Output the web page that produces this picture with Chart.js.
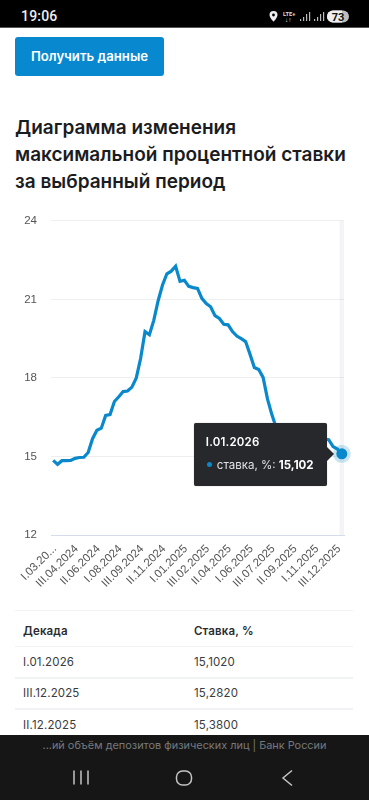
<!DOCTYPE html>
<html lang="ru"><head><meta charset="utf-8">
<style>
html,body{margin:0;padding:0;background:#fff;width:369px;height:800px;overflow:hidden;font-family:Inter,"Noto Sans",sans-serif;color:#1c1d20}
.abs{position:absolute}
#status{left:0;top:0;width:369px;height:28px;background:#000;border-bottom:1px solid #555;box-sizing:border-box;color:#eee}
#clock{left:21px;top:8px;font:500 14px Roboto,sans-serif;letter-spacing:.2px;color:#eee}
#btn{left:15px;top:37px;width:149px;height:39px;background:#0889cf;border-radius:3px;color:#fff;font:600 13.200px/38px Inter,sans-serif;text-align:center}
#title{left:15px;top:114px;width:354px;font:600 19px/27px Inter,sans-serif;color:#1b1c1f;white-space:nowrap}
#chart{left:0;top:200px}
#tip{display:none;background:#26282c;border-radius:2px;color:#fff;box-sizing:border-box;padding:0 0 0 12px;font:13px Inter,sans-serif;box-shadow:0 0 1px #888}
#tip .t{font:600 11.5px/16px Inter,sans-serif;margin-top:11px;letter-spacing:.2px}
#tip .b{font:400 11.5px/16px Inter,sans-serif;margin-top:7px;white-space:nowrap;color:#dfe0e2}
#tip .b b{font-weight:700;color:#fff}
#tip .d{display:inline-block;width:5px;height:5px;border-radius:50%;margin:0 5px 2px 1px;vertical-align:middle}
#tip .c{position:absolute;left:100%;top:50%;margin-top:-7px;border-left:7px solid #26282c;border-top:7px solid transparent;border-bottom:7px solid transparent}
.ln{left:15px;width:338px;height:1px;background:#f1f2f4}
.cell{font:400 11.5px/16px Inter,sans-serif;color:#3a3c40;letter-spacing:.15px}
.hd{font-weight:600;color:#2a2b2f}
#nav{left:0;top:735px;width:369px;height:65px;background:#161616}
#cap{left:0;top:737px;width:369px;text-align:center;font:400 10.900px/16px Inter,sans-serif;color:#77797d;}
</style></head><body>
<div class="abs" id="status"></div>
<div class="abs" id="clock">19:06</div>
<svg class="abs" style="left:266px;top:8px" width="90" height="18" viewBox="0 0 90 18">
<path d="M7.5 3a4 4 0 0 1 4 4c0 2.7-4 6.8-4 6.8S3.500 9.700 3.500 7a4 4 0 0 1 4-4z" fill="#eee"/><circle cx="7.500" cy="7" r="1.400" fill="#000"/>
<text x="17" y="7.500" font-family="Roboto" font-size="5.800" font-weight="700" fill="#ddd">LTE+</text>
<text x="19" y="14" font-family="Roboto" font-size="6.500" font-weight="700" fill="#ddd">↓↑</text>
<g fill="#bbb"><rect x="34" y="11" width="1.200" height="2"/><rect x="37" y="9" width="1.200" height="4"/><rect x="40" y="6" width="1.200" height="7"/><rect x="43" y="4" width="1.200" height="9"/>
<rect x="48" y="11" width="1.200" height="2"/><rect x="51" y="9" width="1.200" height="4"/><rect x="54" y="6" width="1.200" height="7"/><rect x="57" y="4" width="1.200" height="9"/></g>
<rect x="61" y="2.500" width="22" height="12" rx="6" fill="#bdbdbd"/><path d="M67 2.500h9v12h-9a6 6 0 0 1 0-12z" fill="#eee"/>
<text x="72" y="12.700" text-anchor="middle" font-family="Roboto" font-size="11" font-weight="700" fill="#111">73</text></svg>
<div class="abs" id="btn">Получить данные</div>
<div class="abs" id="title">Диаграмма изменения<br>максимальной процентной ставки<br>за выбранный период</div>
<canvas class="abs" id="chart" width="369" height="400"></canvas>
<div class="abs" id="tip"></div>
<div class="abs ln" style="top:610px"></div>
<div class="abs cell hd" style="left:23px;top:623px">Декада</div><div class="abs cell hd" style="left:194px;top:623px">Ставка, %</div>
<div class="abs ln" style="top:646px"></div>
<div class="abs cell" style="left:23px;top:654px">I.01.2026</div><div class="abs cell" style="left:194px;top:654px">15,1020</div>
<div class="abs ln" style="top:677px;height:2px"></div>
<div class="abs cell" style="left:23px;top:685px">III.12.2025</div><div class="abs cell" style="left:194px;top:685px">15,2820</div>
<div class="abs ln" style="top:708px;height:2px"></div>
<div class="abs cell" style="left:23px;top:717px">II.12.2025</div><div class="abs cell" style="left:194px;top:717px">15,3800</div>
<div class="abs" id="nav"></div>
<div class="abs" id="cap">...ий объём депозитов физических лиц | Банк России</div>
<svg class="abs" style="left:0;top:760px" width="369" height="40" viewBox="0 0 369 40" fill="none" stroke="#c4c4c4" stroke-width="1.500">
<path d="M74 10.500v14M81 10.500v14M88 10.500v14"/><rect x="176.500" y="11" width="15" height="14" rx="6"/><path d="M292 10.500l-9 7.500 9 7.500"/></svg>
<script src="https://cdn.jsdelivr.net/npm/chart.js@4"></script>
<script>
const categories = [
'I.03.2024','II.03.2024','III.03.2024','I.04.2024','II.04.2024','III.04.2024','I.05.2024','II.05.2024','III.05.2024','I.06.2024',
'II.06.2024','III.06.2024','I.07.2024','II.07.2024','III.07.2024','I.08.2024','II.08.2024','III.08.2024','I.09.2024','II.09.2024',
'III.09.2024','I.10.2024','II.10.2024','III.10.2024','I.11.2024','II.11.2024','III.11.2024','I.12.2024','II.12.2024','III.12.2024',
'I.01.2025','II.01.2025','III.01.2025','I.02.2025','II.02.2025','III.02.2025','I.03.2025','II.03.2025','III.03.2025','I.04.2025',
'II.04.2025','III.04.2025','I.05.2025','II.05.2025','III.05.2025','I.06.2025','II.06.2025','III.06.2025','I.07.2025','II.07.2025',
'III.07.2025','I.08.2025','II.08.2025','III.08.2025','I.09.2025','II.09.2025','III.09.2025','I.10.2025','II.10.2025','III.10.2025',
'I.11.2025','II.11.2025','III.11.2025','I.12.2025','II.12.2025','III.12.2025','I.01.2026'];
const rate = [
14.85,14.70,14.84,14.84,14.85,14.93,14.96,14.97,15.15,15.68,
16.00,16.08,16.57,16.60,17.10,17.28,17.48,17.50,17.65,18.00,
18.75,19.77,19.65,20.20,20.95,21.55,21.98,22.08,22.27,21.69,
21.73,21.50,21.45,21.42,21.04,20.84,20.72,20.38,20.27,20.05,
20.03,19.77,19.60,19.50,19.39,18.91,18.40,18.32,18.02,17.20,
16.60,16.10,15.95,15.90,15.85,15.80,15.78,15.75,15.72,15.70,
15.70,15.68,15.66,15.64,15.38,15.282,15.102];
const tickLabels = ['I.03.20...','III.04.2024','II.06.2024','I.08.2024','III.09.2024','II.11.2024','I.01.2025','III.02.2025','II.04.2025','I.06.2025','III.07.2025','II.09.2025','I.11.2025','III.12.2025'];
const tickEvery = 5;
const seriesName = 'ставка, %';
const BLUE = '#0a88cc';

const band = {
  id:'band',
  beforeDatasetsDraw(c){
    const a = c.getActiveElements()[0]; if(!a) return;
    const x = c.scales.x, w = x.getPixelForValue(1) - x.getPixelForValue(0), ctx = c.ctx, area = c.chartArea;
    ctx.save(); ctx.fillStyle = 'rgba(150,150,170,0.10)';
    ctx.fillRect(x.getPixelForValue(a.index) - w/2, area.top, w, area.bottom - area.top);
    ctx.restore();
  }
};
function externalTip({tooltip}){
  const el = document.getElementById('tip');
  if(!tooltip.dataPoints || !tooltip.dataPoints.length){ el.style.display='none'; return; }
  const p = tooltip.dataPoints[0];
  el.innerHTML = '<div class="c"></div><div class="t">'+p.label+'</div><div class="b"><span class="d" style="background:'+BLUE+'"></span>'+seriesName+': <b>'+p.raw.toFixed(3).replace('.',',')+'</b></div>';
  const box = document.getElementById('chart').getBoundingClientRect();
  el.style.display='block'; el.style.width='133px'; el.style.height='63px';
  el.style.left=(box.left+tooltip.caretX-15-133)+'px';
  el.style.top=(box.top+tooltip.caretY-31)+'px';
}
const chart = new Chart(document.getElementById('chart'),{
  type:'line',
  data:{labels:categories,datasets:[{label:seriesName,data:rate,borderColor:BLUE,borderWidth:3.2,tension:0,clip:false,
    borderJoinStyle:'miter',pointRadius:0,pointHoverRadius:5.5,pointHoverBorderWidth:7,
    pointHoverBackgroundColor:BLUE,pointHoverBorderColor:'rgba(10,136,204,0.22)'}]},
  options:{
    responsive:false,animation:false,events:[],
    layout:{padding:{top:19.5,right:25,left:0,bottom:0}},
    plugins:{legend:{display:false},tooltip:{enabled:false,external:externalTip,mode:'index',intersect:false}},
    scales:{
      x:{type:'category',offset:true,
        grid:{display:false,drawTicks:false},
        border:{display:true,color:'#d5dcec',width:1},
        afterFit(s){s.height=65},
        ticks:{autoSkip:false,minRotation:45,maxRotation:45,padding:7,labelOffset:1.5,color:'#555',font:{family:'Liberation Sans',size:11.5},
          callback(v,i){return i%tickEvery===0?tickLabels[i/tickEvery]:null}}},
      y:{min:12,max:24,
        grid:{color:'#eeeeee',drawTicks:false,lineWidth:1},
        border:{display:false},
        afterFit(s){s.width=51},
        ticks:{stepSize:3,padding:14,color:'#555',font:{family:'Liberation Sans',size:11.5}}}
    }
  },
  plugins:[band]
});
const act=[{datasetIndex:0,index:rate.length-1}];
chart.setActiveElements(act);
chart.tooltip.setActiveElements(act,{x:0,y:0});
chart.update('none');
</script>
</body></html>
